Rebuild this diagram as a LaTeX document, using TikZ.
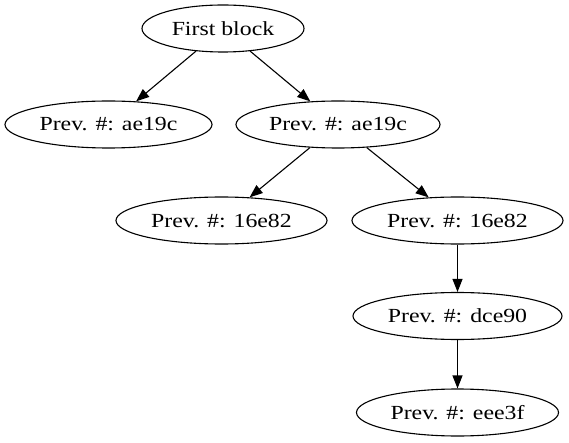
\documentclass[tikz,border=0pt]{standalone}
\usepackage{fontspec}
\setmainfont{Liberation Serif}[FakeStretch=1.19]
\usetikzlibrary{shapes.geometric,arrows.meta}
\begin{document}
\begin{tikzpicture}[x=1pt,y=-1pt,
  blk/.style={draw,ellipse,line width=1.1pt,inner sep=0pt,minimum height=47pt,font=\fontsize{20}{24}\selectfont},
  edge/.style={line width=1.1pt,-{Triangle[length=13pt,width=10pt]}}]
\useasboundingbox (0,0) rectangle (569,443);
\node[blk,minimum width=162pt] (first) at (223,28.5) {First block};
\node[blk,minimum width=207pt] (a1) at (108.5,124.5) {Prev. \#: ae19c};
\node[blk,minimum width=204pt] (a2) at (338,124.5) {Prev. \#: ae19c};
\node[blk,minimum width=211pt] (b1) at (221.5,220.5) {Prev. \#: 16e82};
\node[blk,minimum width=211pt] (b2) at (457.5,220.5) {Prev. \#: 16e82};
\node[blk,minimum width=209pt] (c) at (457.5,316) {Prev. \#: dce90};
\node[blk,minimum width=202pt] (d) at (457.5,412.5) {Prev. \#: eee3f};
\draw[edge] (first) -- (a1);
\draw[edge] (first) -- (a2);
\draw[edge] (a2) -- (b1);
\draw[edge] (a2) -- (b2);
\draw[edge] (b2) -- (c);
\draw[edge] (c) -- (d);
\end{tikzpicture}
\end{document}
